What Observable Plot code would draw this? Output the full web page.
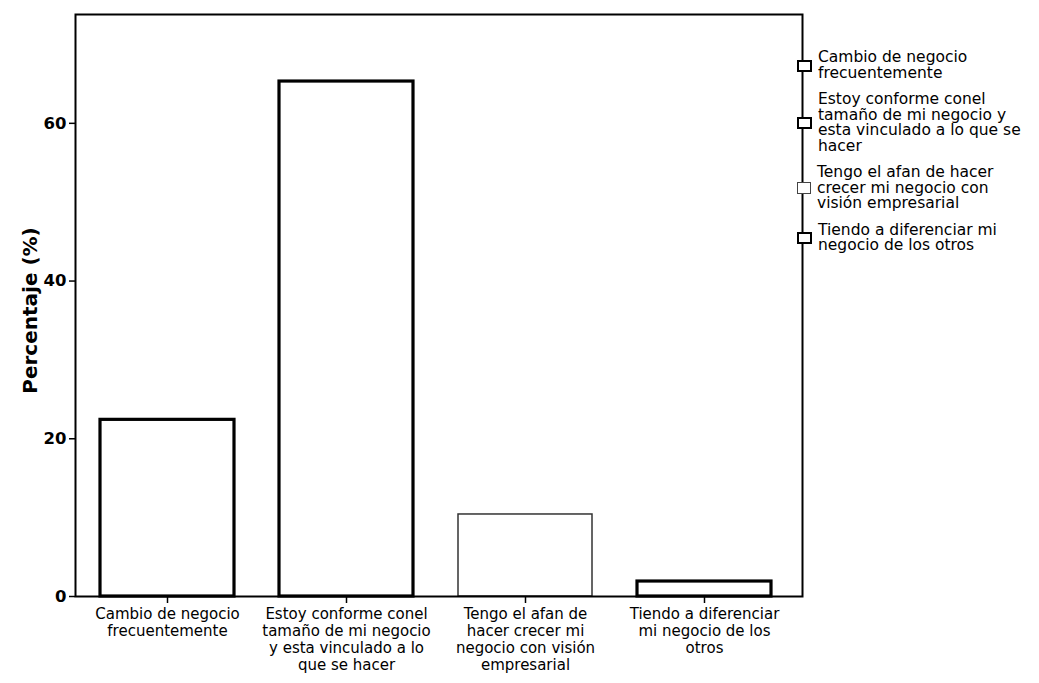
<!DOCTYPE html>
<html>
<head>
<meta charset="utf-8">
<script src="https://cdn.jsdelivr.net/npm/d3@7"></script>
<script src="https://cdn.jsdelivr.net/npm/@observablehq/plot@0.6"></script>
<style>
  html, body { margin: 0; padding: 0; background: white; }
  #wrap { position: relative; width: 1039px; height: 683px; overflow: hidden; }
  #legend { position: absolute; left: 797px; top: 50px; font-family: "DejaVu Sans", sans-serif; font-size: 15.5px; line-height: 15.5px; color: #000; }
  .item { display: flex; align-items: center; margin-bottom: 11px; }
  .sw { width: 11px; height: 8px; border: 2.5px solid #000; background: #fff; margin-right: 6px; flex: none; }
  .sw.thin { border: 1.2px solid #444; width: 12px; height: 10px; }
  .lbl { white-space: pre-line; }
</style>
</head>
<body>
<div id="wrap">
  <div id="chart"></div>
  <div id="legend"></div>
</div>
<script>
const categories = [
  "Cambio de negocio frecuentemente",
  "Estoy conforme conel tamaño de mi negocio y esta vinculado a lo que se hacer",
  "Tengo el afan de hacer crecer mi negocio con visión empresarial",
  "Tiendo a diferenciar mi negocio de los otros"
];
const tickLabels = [
  "Cambio de negocio\nfrecuentemente",
  "Estoy conforme conel\ntamaño de mi negocio\ny esta vinculado a lo\nque se hacer",
  "Tengo el afan de\nhacer crecer mi\nnegocio con visión\nempresarial",
  "Tiendo a diferenciar\nmi negocio de los\notros"
];
const legendLabels = [
  "Cambio de negocio\nfrecuentemente",
  "Estoy conforme conel\ntamaño de mi negocio y\nesta vinculado a lo que se\nhacer",
  "Tengo el afan de hacer\ncrecer mi negocio con\nvisión empresarial",
  "Tiendo a diferenciar mi\nnegocio de los otros"
];
const values = [22.4, 65.3, 10.4, 1.9];
const yTicks = [0, 20, 40, 60];
const yLabel = "Percentaje (%)";

const data = categories.map((c, i) => ({cat: c, value: values[i]}));
const thinCat = categories[2];

const chart = Plot.plot({
  width: 1039,
  height: 683,
  marginLeft: 75,
  marginRight: 237,
  marginTop: 14,
  marginBottom: 87,
  style: {fontFamily: "DejaVu Sans, sans-serif", background: "white", color: "black"},
  x: {domain: categories, paddingInner: 0.25, paddingOuter: 0.15, align: 0.44, label: null},
  y: {domain: [0, 73.8], label: null},
  marks: [
    Plot.barY(data, {
      x: "cat", y: "value", fill: "white",
      stroke: d => d.cat === thinCat ? "#333" : "#000",
      strokeWidth: d => d.cat === thinCat ? 1.5 : 3.2
    }),
    Plot.frame({stroke: "black", strokeWidth: 2}),
    Plot.axisY({ticks: yTicks, tickSize: 6, tickPadding: 3, fontSize: 16.5, fontWeight: "bold", label: null, strokeWidth: 1.5}),
    Plot.axisX({tickFormat: d => tickLabels[categories.indexOf(d)], tickSize: 7, tickPadding: 4, fontSize: 15, lineHeight: 1.12, label: null, strokeWidth: 1.5}),
    Plot.text([yLabel], {frameAnchor: "left", textAnchor: "middle", rotate: -90, dx: -45, dy: 5, fontSize: 20, fontWeight: "bold"})
  ]
});
document.getElementById("chart").appendChild(chart);

const legend = document.getElementById("legend");
legendLabels.forEach((t, i) => {
  const item = document.createElement("div");
  item.className = "item";
  const sw = document.createElement("div");
  sw.className = "sw" + (categories[i] === thinCat ? " thin" : "");
  const lbl = document.createElement("div");
  lbl.className = "lbl";
  lbl.textContent = t;
  item.appendChild(sw);
  item.appendChild(lbl);
  legend.appendChild(item);
});
</script>
</body>
</html>
